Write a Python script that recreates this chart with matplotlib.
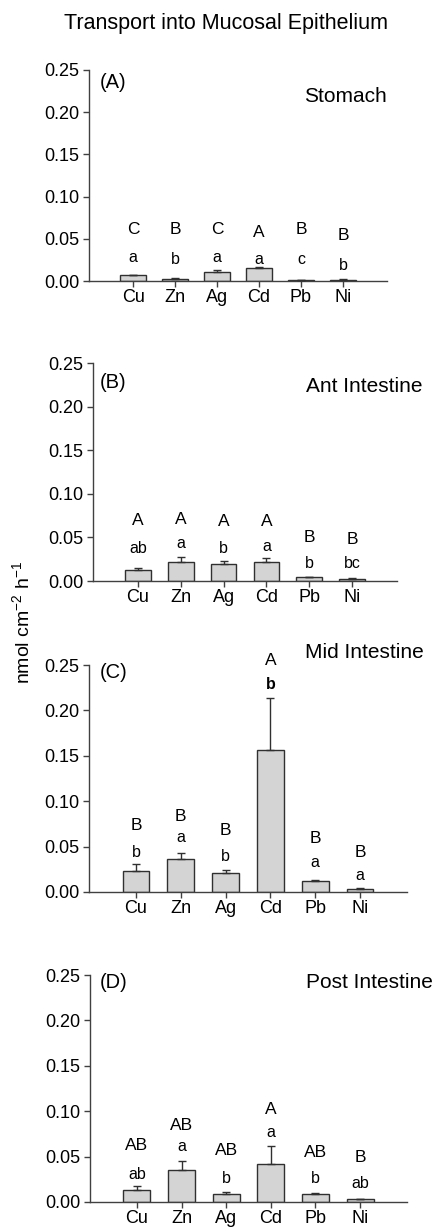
import matplotlib
matplotlib.use("Agg")
import matplotlib.pyplot as plt

plt.rcParams['font.family'] = ['Liberation Sans', 'DejaVu Sans']

metals = ["Cu", "Zn", "Ag", "Cd", "Pb", "Ni"]
yticks = [0.00, 0.05, 0.10, 0.15, 0.20, 0.25]

# Mean transport rates (nmol cm-2 h-1) and standard errors per gut section
stomach_mean = [0.0067, 0.0028, 0.0107, 0.0150, 0.0010, 0.0015]
stomach_se = [0.0010, 0.0004, 0.0023, 0.0016, 0.0003, 0.0004]
ant_mean = [0.0126, 0.0222, 0.0190, 0.0214, 0.0042, 0.0027]
ant_se = [0.0027, 0.0050, 0.0040, 0.0054, 0.0008, 0.0007]
mid_mean = [0.0228, 0.0360, 0.0210, 0.1560, 0.0118, 0.0037]
mid_se = [0.0077, 0.0074, 0.0036, 0.0580, 0.0018, 0.0007]
post_mean = [0.0136, 0.0357, 0.0092, 0.0423, 0.0085, 0.0030]
post_se = [0.0040, 0.0092, 0.0018, 0.0195, 0.0018, 0.0003]

# Significance letters: uppercase across metals, lowercase across sections
stomach_upper = ["C", "B", "C", "A", "B", "B"]
stomach_lower = ["a", "b", "a", "a", "c", "b"]
ant_upper = ["A", "A", "A", "A", "B", "B"]
ant_lower = ["ab", "a", "b", "a", "b", "bc"]
mid_upper = ["B", "B", "B", "A", "B", "B"]
mid_lower = ["b", "a", "b", "b", "a", "a"]
post_upper = ["AB", "AB", "AB", "A", "AB", "B"]
post_lower = ["ab", "a", "b", "a", "b", "ab"]

W, H = 436, 1227
fig = plt.figure(figsize=(W / 100, H / 100), dpi=100)


def fx(px):
    return px / W


def fy(py):
    return 1 - py / H


# Panel layout in pixels: left, right, top, bottom, letter heights (data units)
panels = [
    dict(box=(89, 387, 70, 281), mean=stomach_mean, se=stomach_se,
         up=stomach_upper, lo=stomach_lower,
         up_y=[0.061, 0.061, 0.061, 0.058, 0.061, 0.0545],
         lo_y=[0.028, 0.025, 0.028, 0.025, 0.025, 0.018],
         tag="(A)", tag_pos=(100, 83), name="Stomach", name_pos=(387, 97)),
    dict(box=(93, 397, 363, 581), mean=ant_mean, se=ant_se,
         up=ant_upper, lo=ant_lower,
         up_y=[0.069, 0.071, 0.068, 0.068, 0.050, 0.048],
         lo_y=[0.0375, 0.043, 0.0375, 0.040, 0.020, 0.0195],
         tag="(B)", tag_pos=(100, 382), name="Ant Intestine", name_pos=(422, 386)),
    dict(box=(89, 407, 665, 892), mean=mid_mean, se=mid_se,
         up=mid_upper, lo=mid_lower,
         up_y=[0.0735, 0.083, 0.068, 0.255, 0.059, 0.044],
         lo_y=[0.044, 0.060, 0.039, 0.228, 0.033, 0.018],
         tag="(C)", tag_pos=(100, 672), name="Mid Intestine", name_pos=(424, 653)),
    dict(box=(90, 407, 975, 1202), mean=post_mean, se=post_se,
         up=post_upper, lo=post_lower,
         up_y=[0.0625, 0.0846, 0.057, 0.102, 0.055, 0.0485],
         lo_y=[0.030, 0.061, 0.0257, 0.0765, 0.0257, 0.020],
         tag="(D)", tag_pos=(100, 983), name="Post Intestine", name_pos=(433, 983)),
]

axis_col = "#404040"
x = list(range(len(metals)))

for i, p in enumerate(panels):
    l, r, t, b = p["box"]
    ax = fig.add_axes([fx(l), fy(b), (r - l) / W, (b - t) / H])
    ax.bar(x, p["mean"], width=0.6, color="#d4d4d4", edgecolor="#303030",
           linewidth=1.0, zorder=2)
    ax.errorbar(x, p["mean"], yerr=[[0] * len(x), p["se"]], fmt="none",
                ecolor="#303030", elinewidth=1.0, capsize=3, capthick=1.0, zorder=3)
    ax.set_xlim(-1.05, 6.05)
    ax.set_ylim(0, 0.25)
    ax.set_yticks(yticks)
    ax.set_yticklabels([f"{v:.2f}" for v in yticks])
    ax.set_xticks(x)
    ax.set_xticklabels(metals)
    ax.spines["top"].set_visible(False)
    ax.spines["right"].set_visible(False)
    for s in ("left", "bottom"):
        ax.spines[s].set_color(axis_col)
        ax.spines[s].set_linewidth(1.0)
    ax.tick_params(axis="both", direction="out", length=4, width=1.0,
                   color=axis_col, labelsize=13, pad=2)
    ax.tick_params(axis="y", pad=3)
    for xi, u, uy, lw_, ly in zip(x, p["up"], p["up_y"], p["lo"], p["lo_y"]):
        ax.text(xi, uy, u, ha="center", va="center", fontsize=12.5,
                clip_on=False)
        weight = "bold" if (i == 2 and xi == 3) else "normal"
        ax.text(xi, ly, lw_, ha="center", va="center", fontsize=11.5,
                fontweight=weight, clip_on=False)
    tx, ty = p["tag_pos"]
    fig.text(fx(tx), fy(ty), p["tag"], ha="left", va="center", fontsize=14.5)
    nx, ny = p["name_pos"]
    fig.text(fx(nx), fy(ny), p["name"], ha="right", va="center", fontsize=15)

fig.text(fx(226), fy(24), "Transport into Mucosal Epithelium", ha="center",
         va="center", fontsize=15.5)
fig.text(fx(23), fy(622), "nmol cm$^{\\mathregular{-2}}$ h$^{\\mathregular{-1}}$",
         rotation=90, ha="center", va="center", fontsize=14)

fig.savefig("out.png", dpi=100)
